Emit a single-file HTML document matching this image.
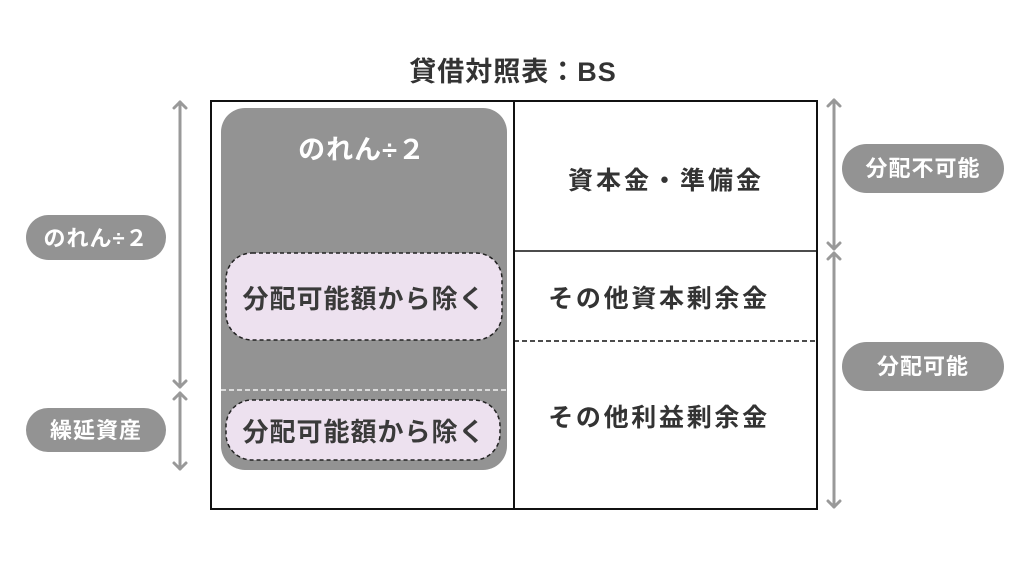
<!DOCTYPE html>
<html><head><meta charset="utf-8"><style>
body{margin:0;background:#fff;}
svg text{font-family:"Liberation Sans","Noto Sans CJK JP",sans-serif;font-weight:bold;}
</style></head><body>
<svg width="1024" height="576" viewBox="0 0 1024 576" xmlns="http://www.w3.org/2000/svg">
<rect width="1024" height="576" fill="#fff"/>
<text x="513" y="81" font-size="27" fill="#333" text-anchor="middle" letter-spacing="1">貸借対照表：BS</text>
<rect x="211" y="101" width="606" height="408" fill="#fff" stroke="#111" stroke-width="2"/>
<line x1="514" y1="101" x2="514" y2="509" stroke="#111" stroke-width="2"/>
<line x1="514" y1="251" x2="817" y2="251" stroke="#111" stroke-width="1.5"/>
<line x1="514" y1="341" x2="817" y2="341" stroke="#111" stroke-width="1.5" stroke-dasharray="5,3"/>
<rect x="221" y="108" width="286" height="362" rx="24" fill="#939393"/>
<line x1="221" y1="390" x2="507" y2="390" stroke="#f2f2f2" stroke-width="1.5" stroke-dasharray="5,3"/>
<text x="362" y="159" font-size="27" fill="#fff" text-anchor="middle" letter-spacing="1">のれん÷２</text>
<rect x="226" y="253" width="276" height="87" rx="26" fill="#ede1ef" stroke="#222" stroke-width="1.5" stroke-dasharray="4,3"/>
<text x="364" y="308" font-size="26" fill="#3a3a3a" text-anchor="middle" letter-spacing="1">分配可能額から除く</text>
<rect x="226" y="400" width="274" height="60" rx="26" fill="#ede1ef" stroke="#222" stroke-width="1.5" stroke-dasharray="4,3"/>
<text x="364" y="441" font-size="26" fill="#3a3a3a" text-anchor="middle" letter-spacing="1">分配可能額から除く</text>
<text x="666" y="189" font-size="25" fill="#333" text-anchor="middle" letter-spacing="3">資本金・準備金</text>
<text x="659" y="307" font-size="25" fill="#333" text-anchor="middle" letter-spacing="2.7">その他資本剰余金</text>
<text x="659" y="426" font-size="25" fill="#333" text-anchor="middle" letter-spacing="2.7">その他利益剰余金</text>
<g stroke="#999" stroke-width="3" fill="none" stroke-linecap="round" stroke-linejoin="round">
<line x1="180" y1="102" x2="180" y2="387"/>
<polyline points="174,108 180,102 186,108"/><polyline points="174,381 180,387 186,381"/>
<line x1="180" y1="393" x2="180" y2="469"/>
<polyline points="174,399 180,393 186,399"/><polyline points="174,463 180,469 186,463"/>
<line x1="834" y1="100" x2="834" y2="249"/>
<polyline points="828,106 834,100 840,106"/><polyline points="828,243 834,249 840,243"/>
<line x1="834" y1="253" x2="834" y2="507"/>
<polyline points="828,259 834,253 840,259"/><polyline points="828,501 834,507 840,501"/>
</g>
<rect x="26" y="215" width="140" height="45" rx="22.5" fill="#939393"/>
<text x="96" y="246" font-size="22" fill="#fff" text-anchor="middle" letter-spacing="1">のれん÷２</text>
<rect x="26" y="408" width="140" height="44" rx="22" fill="#939393"/>
<text x="96" y="438" font-size="22" fill="#fff" text-anchor="middle" letter-spacing="1">繰延資産</text>
<rect x="842" y="144" width="162" height="49" rx="24.5" fill="#939393"/>
<text x="923" y="176" font-size="22" fill="#fff" text-anchor="middle" letter-spacing="1">分配不可能</text>
<rect x="842" y="342" width="162" height="49" rx="24.5" fill="#939393"/>
<text x="923" y="374" font-size="22" fill="#fff" text-anchor="middle" letter-spacing="1">分配可能</text>
</svg>
</body></html>
